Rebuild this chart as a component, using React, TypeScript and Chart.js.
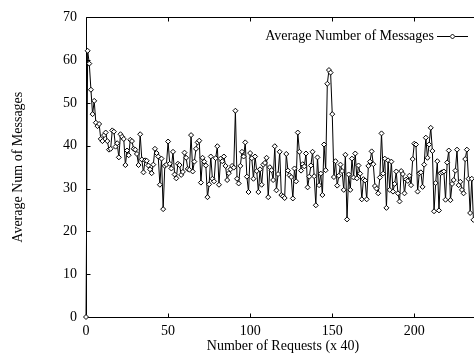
import React, { useEffect, useRef } from "react";
import { Chart, registerables } from "chart.js";

Chart.register(...registerables);

const seriesLabel = "Average Number of Messages";
const xTitle = "Number of Requests (x 40)";
const yTitle = "Average Num of Messages";

const avgMessages: number[] = [
  0, 62.2, 59.2, 53.1, 47.4, 50.5, 45.4, 44.6, 45.1, 41.6, 41.1, 42.5, 43.1, 41.1, 39.1, 39.3, 43.6, 43.3, 39.8, 40.6,
  37.3, 42.7, 42.1, 41.6, 35.5, 38.9, 37.8, 41.4, 41.1, 39.3, 39.1, 38.1, 35.5, 42.7, 36.8, 33.8, 36.6, 36.5, 35.4,
  34.5, 33.6, 35.6, 39.3, 38.3, 37.5, 30.9, 37.0, 25.2, 35.3, 35.6, 41.0, 35.8, 34.7, 38.6, 33.3, 32.4, 35.8, 35.5,
  33.2, 33.9, 38.4, 37.2, 34.6, 34.4, 42.5, 34.0, 36.3, 39.3, 40.8, 41.2, 31.4, 37.2, 36.3, 35.4, 28.0, 31.0, 37.5,
  32.3, 31.7, 37.1, 39.9, 30.9, 37.0, 36.4, 37.5, 35.3, 32.0, 33.6, 34.5, 35.3, 34.9, 48.2, 32.3, 31.2, 35.3, 38.6,
  37.5, 40.8, 32.8, 29.2, 38.3, 37.1, 32.3, 37.5, 34.1, 29.2, 34.5, 30.9, 35.6, 36.0, 37.2, 28.0, 35.0, 34.3, 32.0, 39.9,
  29.6, 33.4, 38.6, 28.5, 28.2, 27.8, 38.1, 34.2, 33.1, 32.7, 27.7, 34.7, 31.7, 43.1, 38.6, 34.2, 35.7, 35.2, 38.2,
  30.3, 32.8, 35.4, 38.6, 32.9, 26.1, 37.3, 30.8, 33.5, 28.5, 40.3, 34.3, 54.5, 57.7, 57.1, 47.4, 32.7, 36.4, 30.7, 33.0,
  35.6, 34.1, 29.7, 37.9, 22.8, 33.3, 29.7, 37.0, 32.6, 38.2, 32.4, 35.4, 33.5, 27.5, 32.2, 31.9, 27.5, 35.3, 36.3,
  38.7, 35.7, 30.6, 30.0, 28.9, 32.6, 42.9, 33.5, 37.0, 25.5, 36.6, 29.7, 36.3, 29.3, 31.1, 34.0, 28.9, 27.0, 34.1, 33.4, 28.9,
  32.1, 31.8, 33.0, 30.8, 36.9, 40.5, 40.3, 29.3, 33.6, 33.8, 30.4, 35.6, 41.9, 37.2, 40.3, 44.2, 38.8, 24.7, 31.3,
  36.4, 24.9, 33.6, 33.8, 34.0, 27.4, 36.1, 38.9, 27.3, 31.1, 32.0, 34.2, 39.1, 30.8, 31.6, 29.7, 28.9, 36.9, 39.1,
  32.3, 24.3, 32.3, 22.7,
];

const xTickValues = [0, 50, 100, 150, 200];
const yTickValues = [0, 10, 20, 30, 40, 50, 60, 70];
const xMin = 0;
const xMax = 240;
const yMin = 0;
const yMax = 70;

const FONT = "'Liberation Serif', 'Times New Roman', serif";
const CANVAS_W = 500;
const CANVAS_H = 356;

const framePlugin = {
  id: "gnuFrame",
  beforeDatasetsDraw(chart: any) {
    const { ctx, chartArea: a, scales } = chart;
    const x = scales.x;
    const y = scales.y;
    ctx.save();
    ctx.strokeStyle = "#000";
    ctx.lineWidth = 1;
    const l = Math.round(a.left) + 0.5;
    const r = Math.round(a.right) + 0.5;
    const t = Math.round(a.top) + 0.5;
    const b = Math.round(a.bottom) + 0.5;
    ctx.beginPath();
    ctx.rect(l, t, r - l, b - t);
    const len = 4;
    for (const v of xTickValues) {
      const px = Math.round(x.getPixelForValue(v)) + 0.5;
      ctx.moveTo(px, b);
      ctx.lineTo(px, b - len);
      ctx.moveTo(px, t);
      ctx.lineTo(px, t + len);
    }
    for (const v of yTickValues) {
      const py = Math.round(y.getPixelForValue(v)) + 0.5;
      ctx.moveTo(l, py);
      ctx.lineTo(l + len, py);
      ctx.moveTo(r, py);
      ctx.lineTo(r - len, py);
    }
    ctx.stroke();
    ctx.restore();
  },
};

const keyPlugin = {
  id: "gnuKey",
  afterDatasetsDraw(chart: any) {
    const { ctx, chartArea: a } = chart;
    const cy = a.top + 19;
    const textRight = a.right - 46;
    const lineL = a.right - 43;
    const lineR = a.right - 12;
    ctx.save();
    ctx.fillStyle = "#000";
    ctx.font = `14px ${FONT}`;
    ctx.textAlign = "right";
    ctx.textBaseline = "middle";
    ctx.fillText(seriesLabel, textRight, cy);
    ctx.strokeStyle = "#000";
    ctx.lineWidth = 1;
    ctx.beginPath();
    ctx.moveTo(lineL, Math.round(cy) + 0.5);
    ctx.lineTo(lineR, Math.round(cy) + 0.5);
    ctx.stroke();
    const mx = (lineL + lineR) / 2;
    const my = Math.round(cy) + 0.5;
    const rr = 2.5;
    ctx.beginPath();
    ctx.moveTo(mx, my - rr);
    ctx.lineTo(mx + rr, my);
    ctx.lineTo(mx, my + rr);
    ctx.lineTo(mx - rr, my);
    ctx.closePath();
    ctx.fillStyle = "#fff";
    ctx.fill();
    ctx.stroke();
    ctx.restore();
  },
};

export default function App() {
  const ref = useRef<HTMLCanvasElement | null>(null);

  useEffect(() => {
    if (!ref.current) return;
    const points = avgMessages.map((v, i) => ({ x: i, y: v }));
    const chart = new Chart(ref.current, {
      type: "line",
      data: {
        datasets: [
          {
            label: seriesLabel,
            data: points,
            borderColor: "#000",
            borderWidth: 1,
            backgroundColor: "#fff",
            pointStyle: "rectRot",
            pointRadius: 2.5,
            pointBorderWidth: 1,
            pointBorderColor: "#000",
            pointBackgroundColor: "#fff",
            tension: 0,
            clip: false,
          } as any,
        ],
      },
      options: {
        animation: false,
        responsive: false,
        devicePixelRatio: 1,
        layout: { padding: { top: 9, right: CANVAS_W - 480, left: 0, bottom: 0 } },
        plugins: {
          legend: { display: false },
          tooltip: { enabled: false },
        },
        scales: {
          x: {
            type: "linear",
            min: xMin,
            max: xMax,
            afterBuildTicks: (s: any) => {
              s.ticks = xTickValues.map((v) => ({ value: v }));
            },
            afterFit: (s: any) => {
              s.height = 39;
            },
            grid: { display: false, drawTicks: false },
            border: { display: false },
            ticks: {
              color: "#000",
              font: { family: FONT, size: 14 },
              padding: 6,
              maxRotation: 0,
              autoSkip: false,
            },
            title: {
              display: true,
              text: xTitle,
              color: "#000",
              font: { family: FONT, size: 14 },
              padding: { top: 0, bottom: 1 },
            },
          },
          y: {
            type: "linear",
            min: yMin,
            max: yMax,
            afterBuildTicks: (s: any) => {
              s.ticks = yTickValues.map((v) => ({ value: v }));
            },
            afterFit: (s: any) => {
              s.width = 86;
            },
            grid: { display: false, drawTicks: false },
            border: { display: false },
            ticks: {
              color: "#000",
              font: { family: FONT, size: 14 },
              padding: 9,
              autoSkip: false,
            },
            title: {
              display: true,
              text: yTitle,
              color: "#000",
              font: { family: FONT, size: 14 },
              padding: { top: 10, bottom: 0 },
            },
          },
        },
      },
      plugins: [framePlugin, keyPlugin],
    });
    return () => chart.destroy();
  }, []);

  return (
    <div
      style={{
        position: "fixed",
        left: 0,
        top: 0,
        width: 474,
        height: 356,
        overflow: "hidden",
        background: "#fff",
      }}
    >
      <canvas
        ref={ref}
        width={CANVAS_W}
        height={CANVAS_H}
        style={{ display: "block", width: CANVAS_W, height: CANVAS_H }}
      />
    </div>
  );
}
